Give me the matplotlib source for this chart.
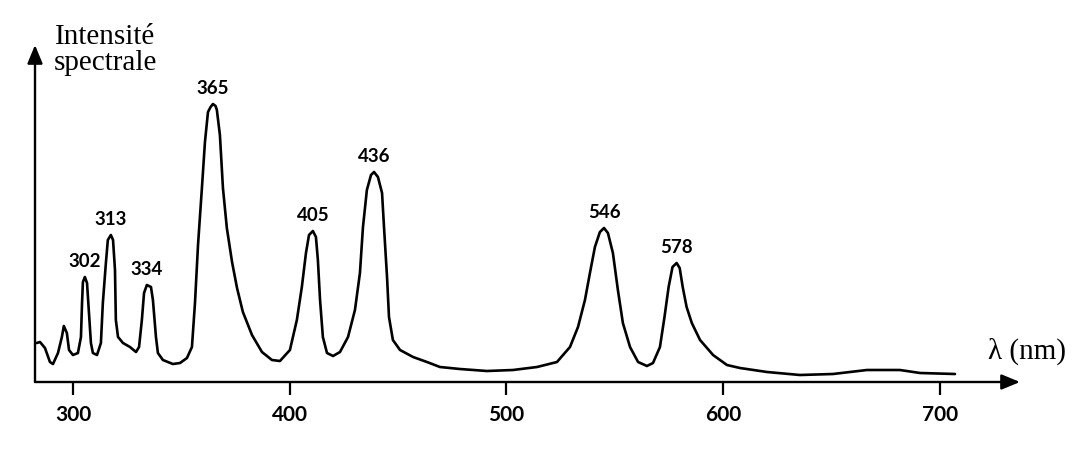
import matplotlib
matplotlib.use("Agg")
import matplotlib.pyplot as plt
import numpy as np

# spectre d'une lampe a vapeur de mercure
wavelength = [283.3, 284.8, 287.1, 289.4, 290.8, 293.1, 294.9, 295.8, 297.2, 298.2,
              300.0, 302.3, 303.7, 304.2, 304.6, 305.5, 306.5, 307.4, 308.3, 309.2,
              311.1, 312.9, 313.8, 315.2, 316.1, 317.5, 318.5, 319.4, 319.8, 320.8,
              323.1, 326.3, 329.1, 330.5, 331.8, 332.8, 334.1, 336.0, 336.9, 338.3,
              339.2, 341.5, 346.1, 349.4, 352.6, 354.9, 356.3, 357.7, 359.5, 360.9,
              362.3, 363.5, 364.6, 365.8, 366.4, 367.8, 369.2, 371.0, 373.4, 375.7,
              378.4, 382.6, 387.2, 391.8, 395.5, 400.1, 403.3, 405.6, 407.5, 408.9,
              410.7, 412.1, 413.0, 414.0, 415.3, 417.2, 420.0, 423.2, 426.9, 430.1,
              432.4, 433.8, 435.6, 437.5, 438.9, 440.7, 442.6, 443.5, 444.9, 445.8,
              447.6, 450.9, 456.9, 463.3, 469.3, 478.5, 491.0, 503.0, 514.1, 523.3,
              529.3, 533.0, 536.2, 538.5, 540.8, 543.1, 545.0, 546.8, 549.1, 551.4,
              553.7, 557.0, 560.7, 564.8, 567.6, 570.8, 572.9, 574.8, 576.6, 578.5,
              579.9, 581.3, 583.1, 585.5, 589.3, 595.3, 601.7, 607.7, 620.2, 635.4,
              650.6, 666.3, 681.5, 690.8, 706.9]
intensity = [39, 40, 34, 20, 18, 29, 45, 56, 49, 32,
             27, 29, 45, 79, 100, 105, 99, 69, 39, 29,
             27, 39, 79, 119, 142, 147, 142, 112, 62, 45,
             39, 35, 30, 35, 62, 89, 97, 95, 82, 45,
             29, 22, 18, 19, 24, 35, 79, 137, 194, 240,
             270, 275, 278, 276, 272, 247, 194, 154, 120, 94,
             70, 47, 30, 22, 21, 32, 62, 95, 129, 147,
             151, 145, 122, 82, 45, 29, 26, 30, 45, 72,
             109, 155, 192, 207, 210, 205, 189, 155, 105, 65,
             42, 32, 25, 20, 15, 13, 11, 12, 15, 20,
             35, 55, 82, 109, 135, 150, 154, 149, 129, 92,
             59, 35, 20, 16, 19, 35, 65, 95, 115, 119,
             114, 95, 75, 59, 42, 27, 17, 14, 10, 7,
             8, 12, 12, 9, 8]

line_labels = ["302", "313", "334", "365", "405", "436", "546", "578"]
line_pos = [305.5, 317.5, 334.1, 364.6, 410.7, 438.9, 545.0, 578.5]
xticks = [300, 400, 500, 600, 700]

W, H = 1087, 454
fig = plt.figure(figsize=(W / 100, H / 100), dpi=100)
# axes en pixels : origine (35, 382), fleche x en 1020, fleche y en 45
ax = fig.add_axes([35 / W, (H - 382) / H, (1020 - 35) / W, (382 - 45) / H])
ax.set_xlim(282.5, 736.9)
ax.set_ylim(0, 337)

ax.plot(wavelength, intensity, color="black", lw=1.9,
        solid_joinstyle="round", solid_capstyle="round")

wl = np.array(wavelength)
it = np.array(intensity)
for lab, pos in zip(line_labels, line_pos):
    top = it[np.abs(wl - pos) <= 1.5].max()
    ax.annotate(lab, (pos, top), xytext=(0, 11.5), textcoords="offset points",
                ha="center", va="center", fontsize=13.5, family="Lato",
                fontweight="bold")

for s in ax.spines.values():
    s.set_visible(False)
ax.set_yticks([])
ax.set_xticks(xticks)
ax.set_xticklabels([str(t) for t in xticks], family="Lato", fontsize=15,
                   fontweight="bold")
ax.tick_params(axis="x", direction="out", length=9.5, width=1.6, pad=7)

arrow = dict(arrowstyle="-|>,head_length=0.8,head_width=0.33", color="black",
             lw=1.7, mutation_scale=14, shrinkA=0, shrinkB=0)
ax.annotate("", xy=(1, 0), xytext=(0, 0), xycoords="axes fraction",
            arrowprops=arrow, annotation_clip=False)
ax.annotate("", xy=(0, 1), xytext=(0, 0), xycoords="axes fraction",
            arrowprops=arrow, annotation_clip=False)

fig.text(105 / W, 1 - 50 / H, "Intensité\nspectrale", ha="center", va="center",
         family="Liberation Serif", fontsize=21, linespacing=1.0)
fig.text(1027 / W, 1 - 351 / H, "λ (nm)", ha="center", va="center",
         family="Liberation Serif", fontsize=21)

fig.savefig("out.png", dpi=100, facecolor="white")
